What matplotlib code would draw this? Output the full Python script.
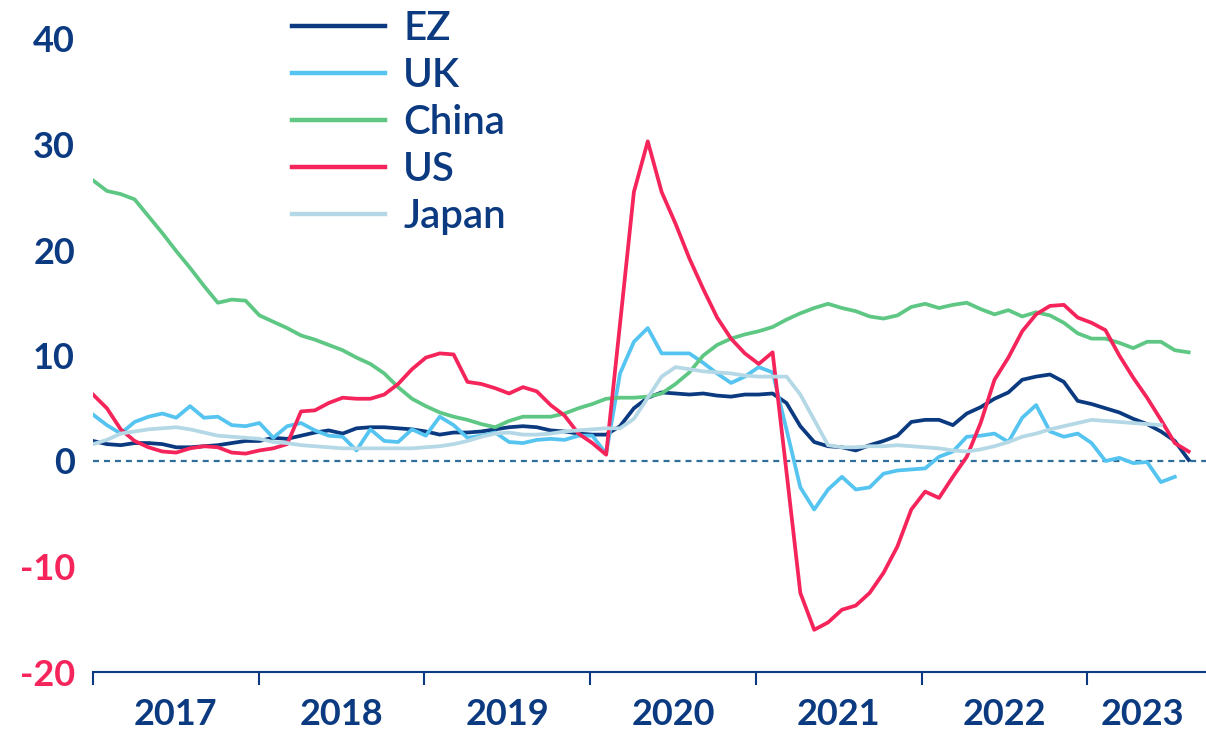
import matplotlib.pyplot as plt
import numpy as np

plt.rcParams['font.family'] = ['Lato', 'DejaVu Sans']
plt.rcParams['lines.scale_dashes'] = False

# monthly growth rates, Jan 2017 onwards (%)
ez = [1.9, 1.6, 1.5, 1.7, 1.7, 1.6, 1.3, 1.3, 1.4, 1.5, 1.7, 1.9, 1.9, 2.2,
      2.1, 2.4, 2.7, 2.9, 2.6, 3.1, 3.2, 3.2, 3.1, 3.0, 2.8, 2.5, 2.7, 2.7,
      2.8, 3.0, 3.2, 3.3, 3.2, 2.9, 2.8, 2.6, 2.5, 2.5, 3.3, 5.0, 6.0, 6.5,
      6.4, 6.3, 6.4, 6.2, 6.1, 6.3, 6.3, 6.4, 5.5, 3.3, 1.8, 1.4, 1.3, 1.0,
      1.5, 1.9, 2.4, 3.7, 3.9, 3.9, 3.4, 4.5, 5.1, 5.9, 6.5, 7.7, 8.0, 8.2,
      7.5, 5.7, 5.4, 5.0, 4.6, 4.0, 3.5, 2.8, 1.9, 0.1]
uk = [4.4, 3.4, 2.6, 3.7, 4.2, 4.5, 4.1, 5.2, 4.1, 4.2, 3.4, 3.3, 3.6, 2.2,
      3.3, 3.6, 2.9, 2.4, 2.3, 1.0, 3.0, 1.9, 1.8, 3.0, 2.4, 4.2, 3.4, 2.2,
      2.4, 2.7, 1.8, 1.7, 2.0, 2.1, 2.0, 2.4, 2.4, 0.7, 8.3, 11.3, 12.6, 10.2,
      10.2, 10.2, 9.3, 8.3, 7.4, 8.0, 8.9, 8.4, 3.0, -2.5, -4.6, -2.7, -1.5, -2.7,
      -2.5, -1.2, -0.9, -0.8, -0.7, 0.4, 0.9, 2.3, 2.4, 2.6, 1.8, 4.1, 5.3, 2.8,
      2.3, 2.6, 1.7, 0.0, 0.3, -0.2, -0.1, -2.0, -1.5]
china = [26.6, 25.6, 25.3, 24.8, 23.2, 21.6, 19.9, 18.3, 16.6, 15.0, 15.3, 15.2,
         13.8, 13.2, 12.6, 11.9, 11.5, 11.0, 10.5, 9.8, 9.2, 8.3, 7.0, 5.9, 5.2,
         4.6, 4.2, 3.9, 3.5, 3.2, 3.8, 4.2, 4.2, 4.2, 4.5, 5.0, 5.4, 5.9, 6.0,
         6.0, 6.1, 6.4, 7.3, 8.4, 10.0, 11.0, 11.6, 12.0, 12.3, 12.7, 13.4, 14.0,
         14.5, 14.9, 14.5, 14.2, 13.7, 13.5, 13.8, 14.6, 14.9, 14.5, 14.8, 15.0,
         14.4, 13.9, 14.3, 13.7, 14.1, 13.8, 13.1, 12.1, 11.6, 11.6, 11.2, 10.7,
         11.3, 11.3, 10.5, 10.3]
us = [6.3, 5.0, 3.0, 1.9, 1.3, 0.9, 0.8, 1.2, 1.4, 1.3, 0.8, 0.7, 1.0, 1.2,
      1.6, 4.7, 4.8, 5.5, 6.0, 5.9, 5.9, 6.3, 7.3, 8.7, 9.8, 10.2, 10.1, 7.5,
      7.3, 6.9, 6.4, 7.0, 6.6, 5.3, 4.3, 2.6, 1.7, 0.6, 13.0, 25.5, 30.3, 25.5,
      22.5, 19.2, 16.3, 13.6, 11.6, 10.2, 9.2, 10.3, -1.0, -12.5, -16.0, -15.3,
      -14.1, -13.7, -12.5, -10.6, -8.1, -4.6, -2.9, -3.5, -1.5, 0.4, 3.6, 7.7,
      9.8, 12.3, 13.9, 14.7, 14.8, 13.6, 13.1, 12.4, 10.0, 7.9, 6.0, 3.9, 1.7, 0.9]
japan = [1.6, 2.0, 2.6, 2.8, 3.0, 3.1, 3.2, 3.0, 2.7, 2.4, 2.3, 2.2, 2.1, 1.8,
         1.7, 1.5, 1.4, 1.3, 1.2, 1.2, 1.2, 1.2, 1.2, 1.2, 1.3, 1.4, 1.6, 1.9,
         2.3, 2.6, 2.7, 2.5, 2.5, 2.6, 2.8, 2.9, 3.0, 3.1, 3.1, 4.0, 6.0, 8.0,
         8.9, 8.7, 8.5, 8.4, 8.3, 8.1, 8.0, 8.0, 8.0, 6.3, 3.9, 1.5, 1.3, 1.3,
         1.4, 1.4, 1.5, 1.4, 1.3, 1.2, 1.0, 0.9, 1.1, 1.4, 1.8, 2.3, 2.6, 3.0,
         3.3, 3.6, 3.9, 3.8, 3.7, 3.6, 3.5, 3.4]

years = ['2017', '2018', '2019', '2020', '2021', '2022', '2023']
yticks = [-20, -10, 0, 10, 20, 30, 40]

navy = '#0B3A80'
sky = '#55C4F0'
green = '#5EC784'
red = '#F5245A'
pale = '#B4D8E5'

fig = plt.figure(figsize=(12.06, 7.37), dpi=100)
ax = fig.add_axes([93 / 1206, 1 - 672 / 737, 1 - 93 / 1206, (672 - 39) / 737])

lw = 2.7
ax.plot(np.arange(len(ez)), ez, color=navy, lw=lw, label='EZ', solid_joinstyle='round')
ax.plot(np.arange(len(uk)), uk, color=sky, lw=lw, label='UK', solid_joinstyle='round')
ax.plot(np.arange(len(china)), china, color=green, lw=lw, label='China', solid_joinstyle='round')
ax.plot(np.arange(len(us)), us, color=red, lw=lw, label='US', solid_joinstyle='round')
ax.plot(np.arange(len(japan)), japan, color=pale, lw=lw, label='Japan', solid_joinstyle='round')
ax.axhline(0, color='#2F6E9B', lw=1.6, ls=(0, (4.3, 3.6)), zorder=0)

ax.set_ylim(-20, 40)
ax.set_xlim(0, 80.25)

for s in ['left', 'right', 'top']:
    ax.spines[s].set_visible(False)
ax.spines['bottom'].set_color(navy)
ax.spines['bottom'].set_linewidth(1.5)

step = 11.95
ax.set_xticks([step * i for i in range(7)])
ax.set_xticklabels([])
ax.tick_params(axis='x', which='major', length=9, width=1.5, color=navy)
ax.set_xticks([step * i + step / 2 for i in range(6)] + [75.7], minor=True)
ax.set_xticklabels(years, minor=True)
ax.tick_params(axis='x', which='minor', length=0, pad=19, labelsize=26, labelcolor=navy)
for t in ax.get_xticklabels(minor=True):
    t.set_fontweight('bold')

ax.set_yticks(yticks)
ax.set_yticklabels([str(v) for v in yticks])
ax.tick_params(axis='y', length=0, pad=13, labelsize=26)
for t, v in zip(ax.get_yticklabels(), yticks):
    t.set_fontweight('bold')
    t.set_color(red if v < 0 else navy)

leg = fig.legend(loc='upper left', bbox_to_anchor=(292 / 1206, 1 - 10 / 737),
                 frameon=False, fontsize=29, handlelength=2.31, handletextpad=0.45,
                 labelspacing=0.25, borderpad=0, borderaxespad=0)
for t in leg.get_texts():
    t.set_color(navy)
    t.set_fontweight('semibold')
for h in leg.get_lines():
    h.set_linewidth(3.2)

fig.savefig('out.png', dpi=100)
